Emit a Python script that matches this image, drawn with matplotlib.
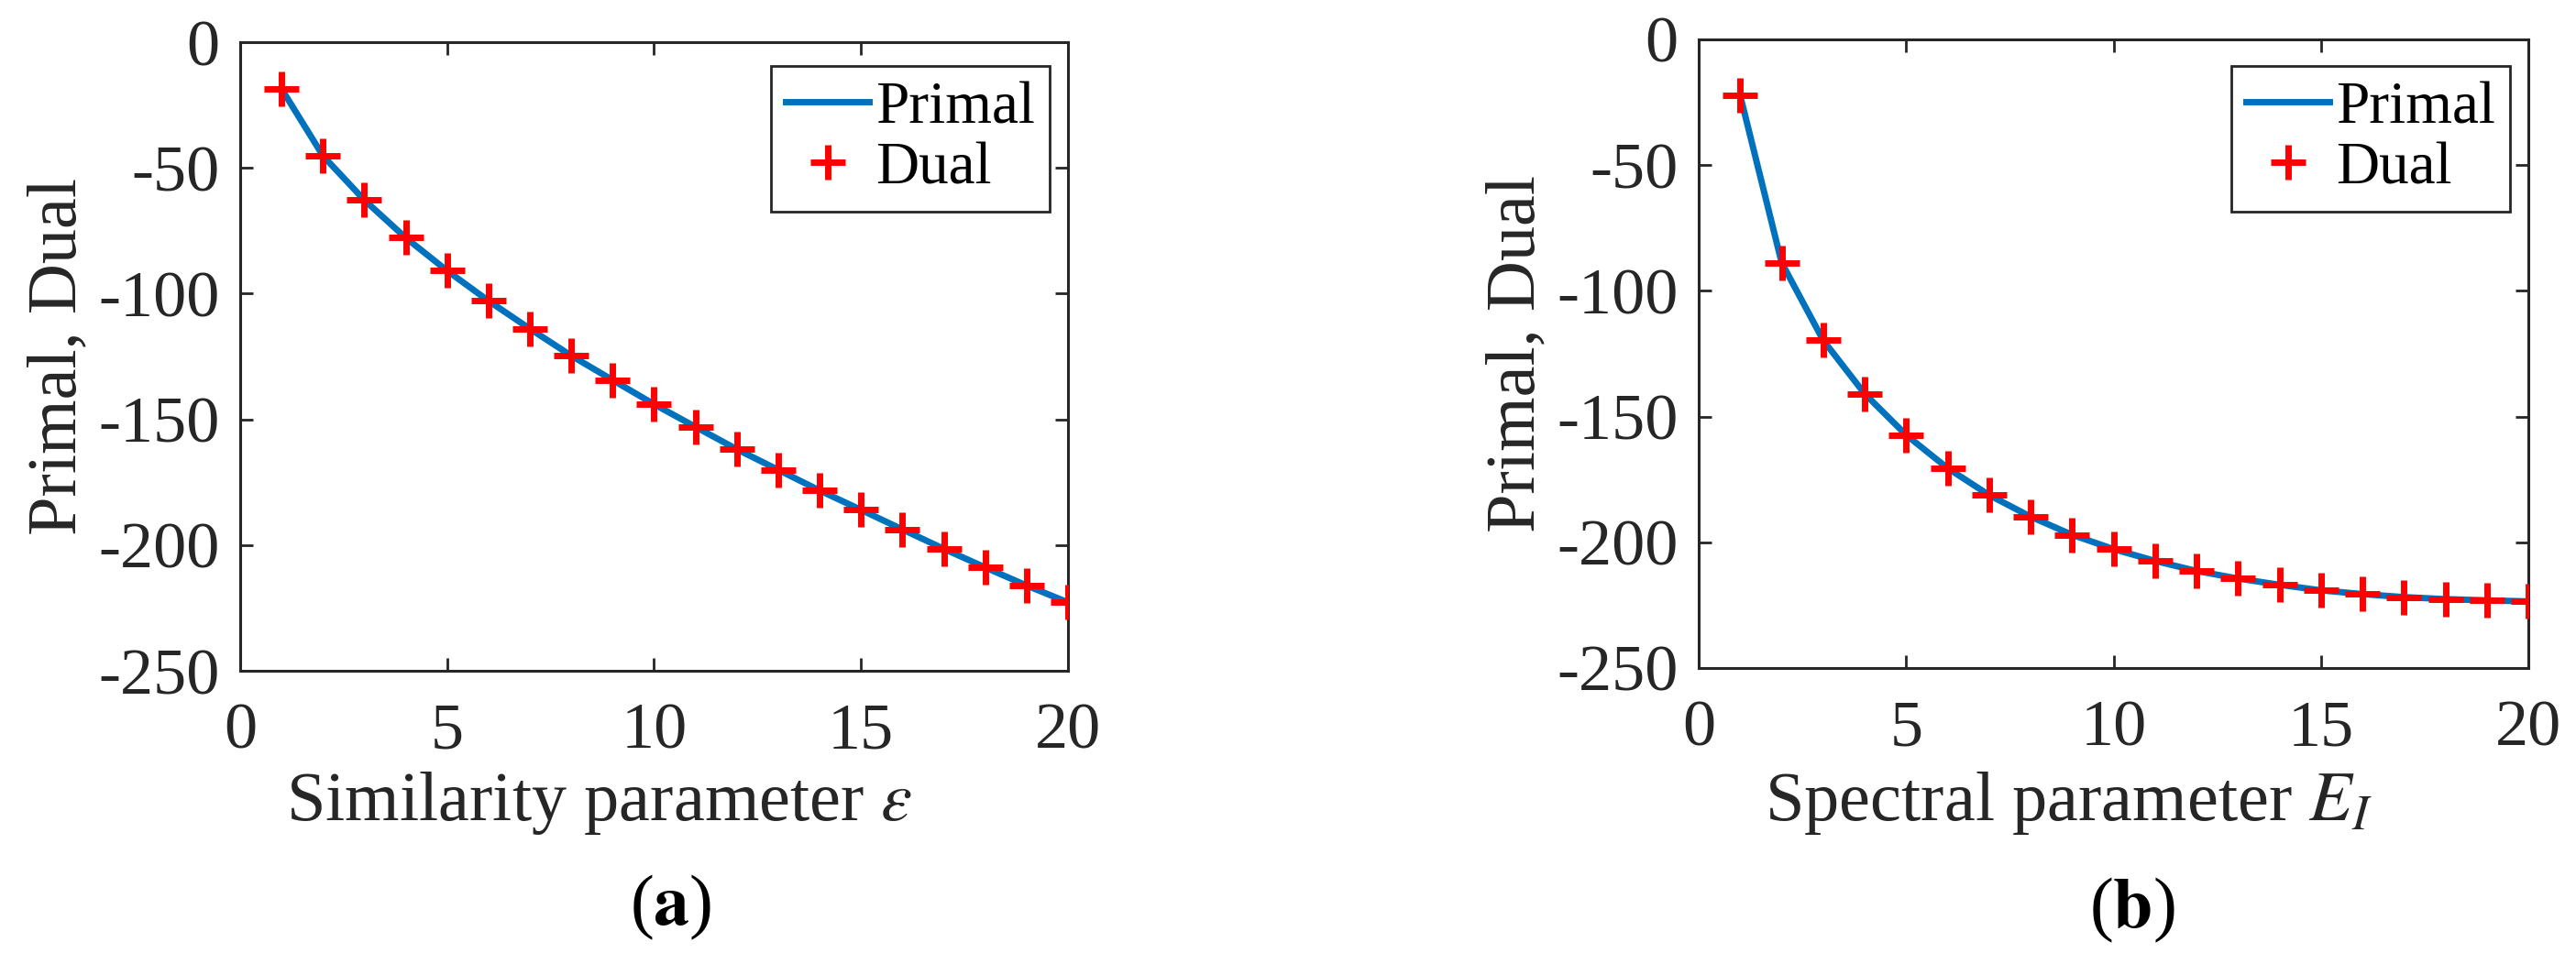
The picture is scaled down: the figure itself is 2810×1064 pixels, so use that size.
#!/usr/bin/env python3

import numpy as np
import matplotlib
matplotlib.use("Agg")
import matplotlib.pyplot as plt

# values, x = 1..20
param = np.arange(1, 21)

primal_a = [-18.6, -45.2, -62.8, -77.8, -90.9, -102.9, -114.0, -124.7, -134.4, -144.0,
	-153.0, -161.9, -170.1, -178.3, -186.0, -193.8, -201.5, -208.9, -216.1, -222.8]
dual_a = primal_a

primal_b = [-22.3, -88.8, -119.6, -140.9, -157.3, -170.5, -181.2, -189.8, -197.0, -202.7,
	-207.4, -211.4, -214.4, -216.9, -219.1, -220.6, -221.8, -222.6, -223.1, -223.5]
dual_b = primal_b

x_ticks = [0, 5, 10, 15, 20]
y_ticks = [0, -50, -100, -150, -200, -250]

xlabels = [r"Similarity parameter $\varepsilon$", r"Spectral parameter $E_I$"]
captions = [r"($\mathbf{a}$)", r"($\mathbf{b}$)"]

plt.rcParams['font.family'] = ['Liberation Serif', 'DejaVu Serif']
plt.rcParams['mathtext.fontset'] = 'stix'

dark = '#262626'
blue = '#0072BD'

W, H = 2810, 1064
fig = plt.figure(figsize=(W / 100, H / 100), dpi=100)

# pixel boxes (left, top, right, bottom)
boxes = [(262, 46, 1165, 732), (1853, 43, 2758, 729)]
xlabel_cx = [654, 2256]
caption_c = [(732, 990), (2326, 993)]

series = [(primal_a, dual_a), (primal_b, dual_b)]

for n, (l, t, r, b) in enumerate(boxes):
	ax = fig.add_axes([l / W, 1 - b / H, (r - l) / W, (b - t) / H])
	p, d = series[n]
	ax.plot(param, p, color=blue, linewidth=5, label='Primal', zorder=2)
	ax.plot(param, d, linestyle='none', marker='+', markersize=27,
		markeredgewidth=5, color='#FF0000', label='Dual', zorder=3)

	ax.set_xlim(0, 20)
	ax.set_ylim(-250, 0)
	ax.set_xticks(x_ticks)
	ax.set_yticks(y_ticks)
	ax.set_yticklabels([str(v) for v in y_ticks])
	ax.tick_params(direction='in', length=10, width=2, colors=dark,
		labelsize=52, top=True, right=True)
	ax.tick_params(axis='x', pad=25)
	ax.tick_params(axis='y', pad=16)
	for s in ax.spines.values():
		s.set_linewidth(2.2)
		s.set_color(dark)

	ax.set_ylabel("Primal, Dual", fontsize=55, color=dark)
	ax.yaxis.set_label_coords(-164 / (r - l), 0.5)
	ax.set_xlabel(xlabels[n], fontsize=55, color=dark)
	ax.xaxis.set_label_coords((xlabel_cx[n] - l) / (r - l), (b - 840) / (b - t))

	leg = ax.legend(loc='upper right', bbox_to_anchor=((r - 20 - l) / (r - l), (b - 72) / (b - t)),
		borderaxespad=0, fontsize=47, handlelength=1.4, handletextpad=0.1,
		labelspacing=0.1, borderpad=0.25, numpoints=1, fancybox=False,
		framealpha=1, edgecolor=dark)
	leg.get_frame().set_linewidth(2)

	cx, cy = caption_c[n]
	fig.text(cx / W, 1 - cy / H, captions[n], fontsize=56, ha='center', va='center',
		color='black')

fig.savefig("out.png", dpi=100)
